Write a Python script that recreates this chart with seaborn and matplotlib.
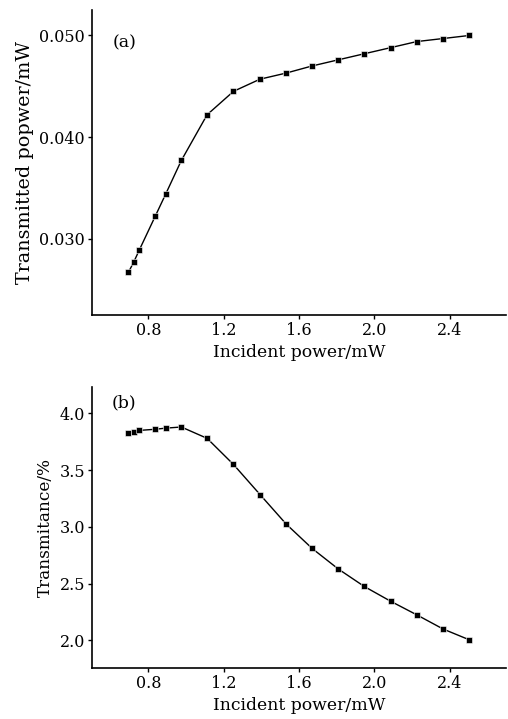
import seaborn as sns
import matplotlib.pyplot as plt
import pandas as pd

# incident power (mW), shared by both panels
power = [0.694, 0.722, 0.752, 0.836, 0.892, 0.975, 1.112, 1.252, 1.393,
         1.532, 1.670, 1.808, 1.947, 2.087, 2.226, 2.366, 2.505]
# (a) transmitted power (mW)
transmitted = [0.0267, 0.0277, 0.0289, 0.0322, 0.0344, 0.0377, 0.0422, 0.0445, 0.0457,
               0.0463, 0.0470, 0.0476, 0.0482, 0.0488, 0.0494, 0.0497, 0.0500]
# (b) transmittance (%)
transmittance = [3.83, 3.84, 3.85, 3.86, 3.87, 3.88, 3.78, 3.55, 3.285,
                 3.025, 2.81, 2.63, 2.475, 2.345, 2.225, 2.10, 2.005]

x_ticks = [0.8, 1.2, 1.6, 2.0, 2.4]

sns.set_style("ticks")
plt.rcParams['font.family'] = ['DejaVu Serif']
plt.rcParams['text.color'] = 'black'
plt.rcParams['axes.labelcolor'] = 'black'
plt.rcParams['xtick.color'] = 'black'
plt.rcParams['ytick.color'] = 'black'

df = pd.DataFrame({"power": power, "transmitted": transmitted, "transmittance": transmittance})

fig = plt.figure(figsize=(5.08, 7.19), dpi=100)
ax1 = fig.add_axes([0.181, 0.562, 0.815, 0.424])
ax2 = fig.add_axes([0.181, 0.071, 0.815, 0.391])

style = dict(color="black", marker="s", markersize=5, markeredgecolor="white",
             markeredgewidth=0.4, linewidth=1.0)

sns.lineplot(data=df, x="power", y="transmitted", ax=ax1, **style)
sns.lineplot(data=df, x="power", y="transmittance", ax=ax2, **style)

ax1.set_xlim(0.50, 2.70)
ax1.set_ylim(0.0225, 0.0525)
ax1.set_yticks([0.030, 0.040, 0.050])
ax1.set_yticklabels(["0.030", "0.040", "0.050"])
ax1.set_ylabel("Transmitted popwer/mW", fontsize=13.8, labelpad=4)
ax1.text(0.051, 0.892, "(a)", transform=ax1.transAxes, fontsize=12.5, va="center")

ax2.set_xlim(0.50, 2.70)
ax2.set_ylim(1.757, 4.234)
ax2.set_yticks([2.0, 2.5, 3.0, 3.5, 4.0])
ax2.set_yticklabels(["2.0", "2.5", "3.0", "3.5", "4.0"])
ax2.set_ylabel("Transmitance/%", fontsize=12.2, labelpad=4)
ax2.text(0.048, 0.943, "(b)", transform=ax2.transAxes, fontsize=12.5, va="center")

for ax in (ax1, ax2):
    ax.set_xticks(x_ticks)
    ax.set_xticklabels(["0.8", "1.2", "1.6", "2.0", "2.4"])
    ax.set_xlabel("Incident power/mW", fontsize=12.4, labelpad=4)
    ax.tick_params(labelsize=11.5, length=3, width=1, color="black", pad=2)
    for s in ("left", "bottom"):
        ax.spines[s].set_linewidth(1.2)
        ax.spines[s].set_color("black")
    sns.despine(ax=ax)

fig.savefig("out.png", dpi=100)
